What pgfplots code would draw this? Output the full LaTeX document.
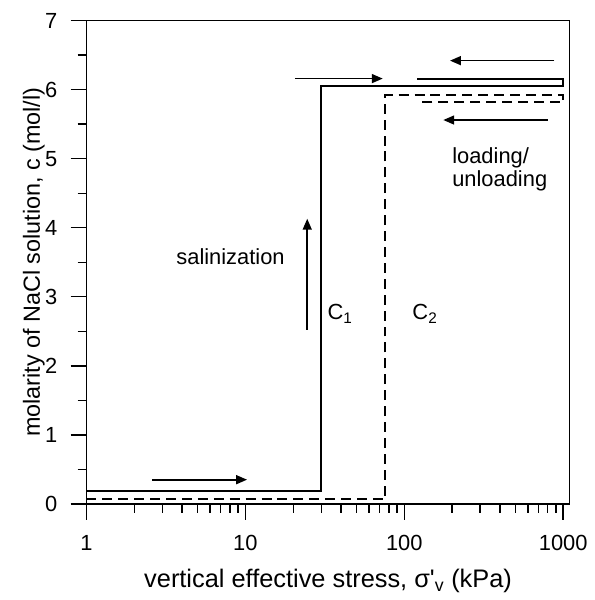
\documentclass[border=0pt]{standalone}
\usepackage{fontspec}
\setmainfont{Liberation Sans}
\usepackage{pgfplots}
\pgfplotsset{compat=1.18}
\usetikzlibrary{arrows.meta}
\begin{document}
\fontsize{22}{24}\selectfont
\begin{tikzpicture}
\begin{axis}[
  at={(0pt,0pt)}, anchor=south west,
  scale only axis, width=485.7pt, height=486pt,
  xmode=log, xmin=1, xmax=1097, ymin=0, ymax=7,
  xtick={1,10,100,1000}, xticklabels={1,10,100,1000},
  ytick={0,1,2,3,4,5,6,7}, minor y tick num=1,
  xtick pos=bottom, ytick pos=left,
  tick align=outside,
  major tick length=16pt, minor tick length=9pt,
  tick style={line width=1.4pt, black},
  axis line style={line width=1.8pt},
  tick label style={font=\fontsize{22}{24}\selectfont},
  xticklabel style={yshift=-8pt},
  yticklabel style={xshift=-6pt},
  /pgf/number format/assume math mode=true,
  xlabel={vertical effective stress, σ\textquotesingle\textsubscript{v} (kPa)},
  ylabel={molarity of NaCl solution, c (mol/l)},
  xlabel style={font=\fontsize{25.5}{27}\selectfont, at={(axis description cs:0.5,0)}, anchor=base, yshift=-84pt},
  ylabel style={font=\fontsize{23.5}{25}\selectfont, at={(axis description cs:-0.0968,0.5)}, anchor=base, rotate=0},
  clip=false,
]
% C1 solid
\addplot[black, line width=2pt] coordinates {(1,0.18) (30,0.18) (30,6.05) (1000,6.05) (1000,6.155) (121,6.155)};
% C2 dashed
\addplot[black, line width=2pt, dash pattern=on 10pt off 6pt] coordinates {(1,0.07) (76,0.07) (76,5.92) (1000,5.92) (1000,5.82) (121,5.82)};
% arrows
\addplot[black, line width=1.7pt, -{Triangle[length=11pt,width=9pt]}] coordinates {(2.585,0.351) (10.24,0.351)};
\addplot[black, line width=1.7pt, -{Triangle[length=11pt,width=9pt]}] coordinates {(24.5,2.52) (24.5,4.13)};
\addplot[black, line width=1.7pt, -{Triangle[length=11pt,width=9pt]}] coordinates {(20.5,6.16) (73.2,6.16)};
\addplot[black, line width=1.7pt, -{Triangle[length=11pt,width=9pt]}] coordinates {(879,6.42) (194,6.42)};
\addplot[black, line width=1.7pt, -{Triangle[length=11pt,width=9pt]}] coordinates {(799,5.56) (176,5.56)};
\node[font=\fontsize{22}{24}\selectfont] at (axis cs:8.06,3.58) {salinization};
\node[font=\fontsize{22}{24}\selectfont] at (axis cs:39.4,2.75) {C\textsubscript{1}};
\node[font=\fontsize{22}{24}\selectfont] at (axis cs:134.8,2.75) {C\textsubscript{2}};
\node[font=\fontsize{22}{23}\selectfont, anchor=west, align=left, inner sep=0pt] at (axis cs:200,4.85) {loading/\\unloading};
\end{axis}
\path[use as bounding box] (-87pt,-93.3pt) rectangle (511pt,506.7pt);
\end{tikzpicture}
\end{document}
